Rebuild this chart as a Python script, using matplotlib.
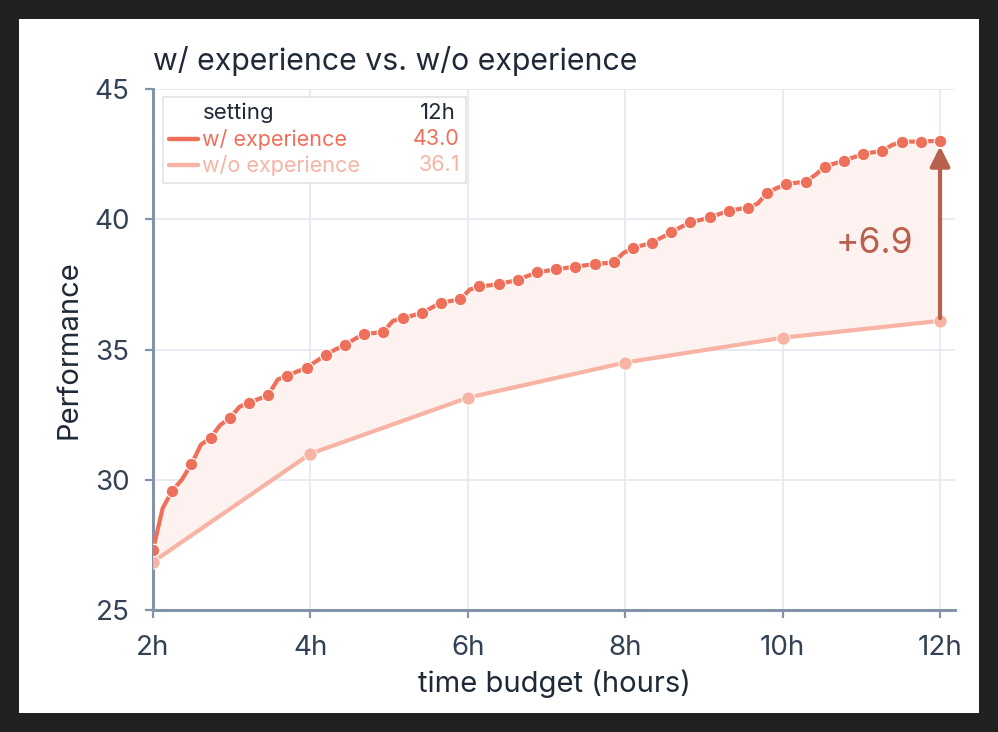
import numpy as np
import matplotlib
matplotlib.use("Agg")
import matplotlib.pyplot as plt
from matplotlib.patches import Rectangle
from matplotlib.lines import Line2D

plt.rcParams['font.family'] = ['Inter', 'DejaVu Sans']

# ---------------- data ----------------
title = "w/ experience vs. w/o experience"
x_label = "time budget (hours)"
y_label = "Performance"
x_ticks = [2, 4, 6, 8, 10, 12]
x_tick_labels = ["2h", "4h", "6h", "8h", "10h", "12h"]
y_ticks = [25, 30, 35, 40, 45]

# w/ experience: values at marker points (every 10/41 h from 2h to 12h)
with_exp_marked = [27.3, 29.58, 30.60, 31.61, 32.36, 32.96, 33.25, 34.0, 34.3, 34.79,
                   35.17, 35.6, 35.68, 36.2, 36.41, 36.8, 36.92, 37.42, 37.51, 37.67,
                   37.96, 38.08, 38.18, 38.28, 38.35, 38.9, 39.10, 39.50, 39.88, 40.07,
                   40.33, 40.45, 41.02, 41.35, 41.44, 42.02, 42.25, 42.50, 42.63, 42.98,
                   42.98, 43.0]
# w/ experience: values midway between markers
with_exp_between = [28.9, 30.0, 31.35, 32.1, 32.8, 33.1, 33.85, 34.15, 34.55, 35.0,
                    35.4, 35.63, 36.1, 36.3, 36.6, 36.86, 37.3, 37.46, 37.59, 37.82,
                    38.02, 38.13, 38.23, 38.31, 38.7, 39.0, 39.3, 39.7, 39.97, 40.2,
                    40.39, 40.6, 41.2, 41.4, 41.7, 42.14, 42.38, 42.57, 42.85, 42.98,
                    43.0]
wo_hours = [2, 4, 6, 8, 10, 12]
wo_exp = [26.85, 31.0, 33.15, 34.5, 35.45, 36.1]

legend_header = ["setting", "12h"]
series_names = ["w/ experience", "w/o experience"]

# ---------------- styling ----------------
c_with = "#ef705a"
c_wo = "#f7b3a3"
c_fill = "#fdf2ef"
c_arrow = "#b8614e"
c_spine = "#8394a9"
c_grid = "#e4e9f0"
c_text = "#334155"

# build the dense series
n = len(with_exp_marked)
with_hours = np.linspace(2, 12, 2 * n - 1)
with_vals = np.empty(2 * n - 1)
with_vals[0::2] = with_exp_marked
with_vals[1::2] = with_exp_between

fig = plt.figure(figsize=(9.98, 7.32), dpi=100, facecolor="#212121")
fig.patches.append(Rectangle((19 / 998, 1 - 713 / 732), 960 / 998, 694 / 732,
                             transform=fig.transFigure, facecolor="white",
                             edgecolor="none", zorder=-10))

ax = fig.add_axes([153 / 998, 1 - 610 / 732, (955 - 153) / 998, (610 - 89) / 732])
ax.set_zorder(1)
ax.set_facecolor("none")
ax.set_xlim(2, 12.19)
ax.set_ylim(25, 45)

ax.grid(True, color=c_grid, linewidth=1.2, zorder=0)
ax.set_axisbelow(True)
for s in ["top", "right"]:
    ax.spines[s].set_visible(False)
for s in ["left", "bottom"]:
    ax.spines[s].set_color(c_spine)
    ax.spines[s].set_linewidth(2.2)

ax.set_xticks(x_ticks)
ax.set_xticklabels(x_tick_labels)
ax.set_yticks(y_ticks)
ax.tick_params(axis="both", colors=c_spine, labelcolor=c_text, labelsize=20,
               length=6, width=1.6, direction="out")
ax.tick_params(axis="x", pad=12)
ax.tick_params(axis="y", pad=11)

# fill between
wo_interp = np.interp(with_hours, wo_hours, wo_exp)
ax.fill_between(with_hours, wo_interp, with_vals, color=c_fill, linewidth=0, zorder=1)

# lines
ax.plot(wo_hours, wo_exp, color=c_wo, linewidth=3.0, marker="o", markersize=9.5,
        markeredgecolor="white", markeredgewidth=0.6, zorder=3)
ax.plot(with_hours, with_vals, color=c_with, linewidth=3.0, marker="o", markersize=9,
        markevery=2, markeredgecolor="white", markeredgewidth=0.8, zorder=4)

# arrow + delta
gap = with_exp_marked[-1] - wo_exp[-1]
ax.annotate("", xy=(12, with_exp_marked[-1] - 0.2), xytext=(12, wo_exp[-1] + 0.1),
            arrowprops=dict(arrowstyle="-|>,head_length=1.2,head_width=0.6",
                            color=c_arrow, linewidth=3, shrinkA=0, shrinkB=0),
            zorder=5)
ax.text(11.66, 39.05, f"+{gap:.1f}",
        color=c_arrow, fontsize=25.5, ha="right", va="center")

# labels
ax.set_xlabel(x_label, fontsize=21, color="#1f2937", labelpad=6)
ax.set_ylabel(y_label, fontsize=21, color="#1f2937", labelpad=8)
fig.text(153 / 998, 1 - 61 / 732, title, fontsize=21.8, color="#1f2937",
         ha="left", va="center")

# custom legend table
lx0, ly0 = 163, 97
lx1, ly1 = 466, 183
def fx(px):
    return px / 998
def fy(py):
    return 1 - py / 732
fig.patches.append(Rectangle((fx(lx0), fy(ly1)), fx(lx1) - fx(lx0), fy(ly0) - fy(ly1),
                             transform=fig.transFigure, facecolor="white",
                             edgecolor="#dfe4ea", linewidth=1.2, zorder=5))
rows_y = [113, 139, 165]
fig.text(fx(203), fy(rows_y[0]), legend_header[0], fontsize=16, color="#1f2937",
         ha="left", va="center", zorder=6)
fig.text(fx(456), fy(rows_y[0]), legend_header[1], fontsize=16, color="#1f2937",
         ha="right", va="center", zorder=6)
last_vals = [with_exp_marked[-1], wo_exp[-1]]
for name, col, val, ry in zip(series_names, [c_with, c_wo], last_vals, rows_y[1:]):
    fig.lines.append(Line2D([fx(169), fx(198)], [fy(ry), fy(ry)], color=col,
                            linewidth=3.2, transform=fig.transFigure, zorder=6,
                            solid_capstyle="round"))
    fig.text(fx(202), fy(ry), name, fontsize=15.5, color=col, ha="left", va="center",
             zorder=6)
    fig.text(fx(460), fy(ry), f"{val:.1f}", fontsize=15.5, color=col, ha="right",
             va="center", zorder=6)

fig.savefig("out.png", dpi=100, facecolor=fig.get_facecolor())
